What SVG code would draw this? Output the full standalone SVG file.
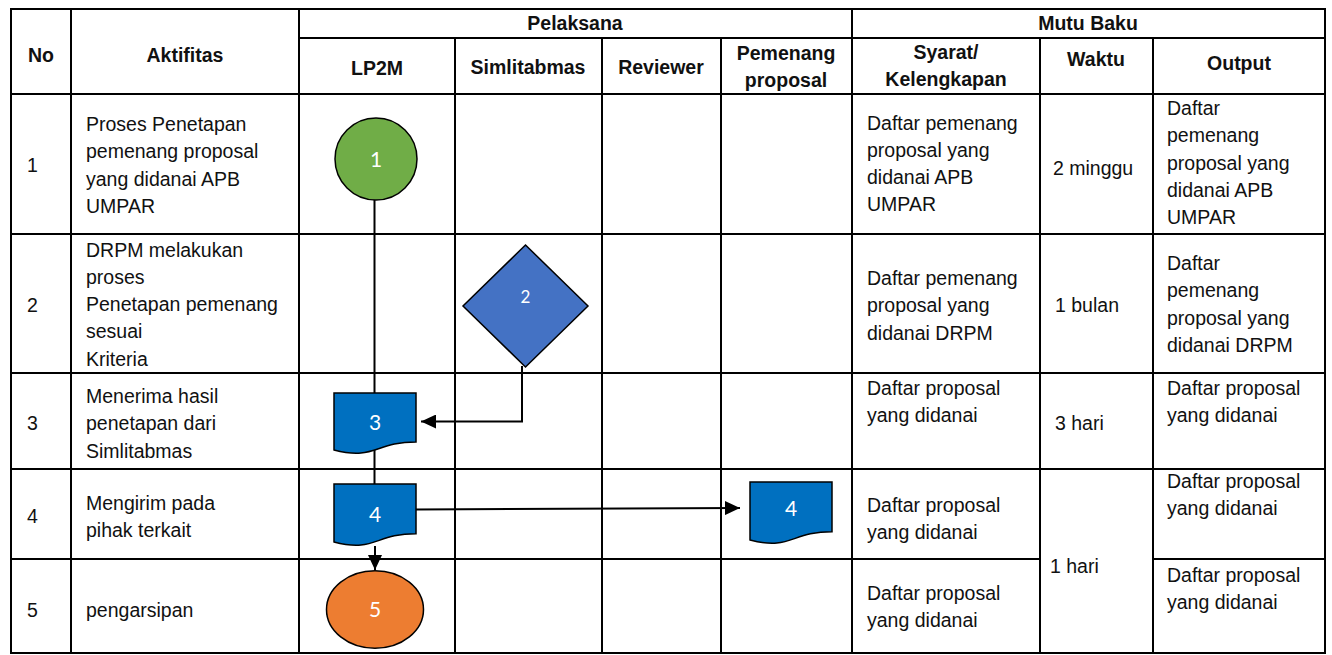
<svg xmlns="http://www.w3.org/2000/svg" width="1332" height="655" viewBox="0 0 1332 655">
<style>
.g{stroke:#000;stroke-width:2;fill:none}
.t{font-family:"Liberation Sans",Arial,sans-serif;font-size:19.5px;fill:#111}
.h{font-family:"Liberation Sans",Arial,sans-serif;font-size:19.5px;font-weight:bold;fill:#111;text-anchor:middle}
.c{text-anchor:middle}
.w{font-family:Lato,"Open Sans",sans-serif;font-size:21px;fill:#fff;text-anchor:middle}
.ln{stroke:#000;stroke-width:2;fill:none}
.sh{stroke:#000;stroke-width:1.5}
</style>
<defs>
<marker id="ah" markerUnits="userSpaceOnUse" markerWidth="16" markerHeight="14" refX="15" refY="7" orient="auto">
<path d="M0,0 L15,7 L0,14 Z" fill="#000"/>
</marker>
</defs>
<rect width="1332" height="655" fill="#fff"/>
<g id="table" class="g">
<rect x="11" y="9" width="1314" height="644"/>
<path d="M71,9 V653 M299,9 V653 M852,9 V653 M455,38 V653 M602,38 V653 M721,38 V653 M1040,38 V653 M1153,38 V653"/>
<path d="M299,38 H1325 M11,94 H1325 M11,234 H1325 M11,373 H1325 M11,469 H1325 M11,559 H1040 M1153,559 H1325"/>
</g>
<g id="headers">
<text class="h" x="41" y="62">No</text>
<text class="h" x="185" y="62">Aktifitas</text>
<text class="h" x="575" y="30">Pelaksana</text>
<text class="h" x="1088" y="30">Mutu Baku</text>
<text class="h" x="377" y="75">LP2M</text>
<text class="h" x="528" y="74">Simlitabmas</text>
<text class="h" x="661" y="74">Reviewer</text>
<text class="h" x="786" y="60">Pemenang</text>
<text class="h" x="786" y="87">proposal</text>
<text class="h" x="946" y="59">Syarat/</text>
<text class="h" x="946" y="86">Kelengkapan</text>
<text class="h" x="1096" y="66">Waktu</text>
<text class="h" x="1239" y="70">Output</text>
</g>
<g id="row1" class="t">
<text x="27" y="172">1</text>
<text x="86" y="131">Proses Penetapan</text>
<text x="86" y="158.3">pemenang proposal</text>
<text x="86" y="185.6">yang didanai APB</text>
<text x="86" y="213">UMPAR</text>
<text x="867" y="129.5">Daftar pemenang</text>
<text x="867" y="156.8">proposal yang</text>
<text x="867" y="184.1">didanai APB</text>
<text x="867" y="211.4">UMPAR</text>
<text x="1053" y="175">2 minggu</text>
<text x="1167" y="115">Daftar</text>
<text x="1167" y="142.3">pemenang</text>
<text x="1167" y="169.6">proposal yang</text>
<text x="1167" y="196.9">didanai APB</text>
<text x="1167" y="224.2">UMPAR</text>
</g>
<g id="row2" class="t">
<text x="27" y="312">2</text>
<text x="86" y="256.5">DRPM melakukan</text>
<text x="86" y="283.8">proses</text>
<text x="86" y="311.1">Penetapan pemenang</text>
<text x="86" y="338.4">sesuai</text>
<text x="86" y="365.7">Kriteria</text>
<text x="867" y="285">Daftar pemenang</text>
<text x="867" y="312.3">proposal yang</text>
<text x="867" y="339.6">didanai DRPM</text>
<text x="1055" y="312">1 bulan</text>
<text x="1167" y="270">Daftar</text>
<text x="1167" y="297.3">pemenang</text>
<text x="1167" y="324.6">proposal yang</text>
<text x="1167" y="351.9">didanai DRPM</text>
</g>
<g id="row3" class="t">
<text x="27" y="430">3</text>
<text x="86" y="403">Menerima hasil</text>
<text x="86" y="430.3">penetapan dari</text>
<text x="86" y="457.6">Simlitabmas</text>
<text x="867" y="395">Daftar proposal</text>
<text x="867" y="422.3">yang didanai</text>
<text x="1055" y="430">3 hari</text>
<text x="1167" y="395">Daftar proposal</text>
<text x="1167" y="422.3">yang didanai</text>
</g>
<g id="row4" class="t">
<text x="27" y="523">4</text>
<text x="86" y="510">Mengirim pada</text>
<text x="86" y="537.3">pihak terkait</text>
<text x="867" y="512">Daftar proposal</text>
<text x="867" y="539.3">yang didanai</text>
<text x="1050" y="573">1 hari</text>
<text x="1167" y="488">Daftar proposal</text>
<text x="1167" y="515.3">yang didanai</text>
</g>
<g id="row5" class="t">
<text x="27" y="617">5</text>
<text x="86" y="617">pengarsipan</text>
<text x="867" y="600">Daftar proposal</text>
<text x="867" y="627.3">yang didanai</text>
<text x="1167" y="582">Daftar proposal</text>
<text x="1167" y="609.3">yang didanai</text>
</g>
<g id="connectors" class="ln">
<path d="M374.5,200 V484"/>
<path d="M522,366 V421.5 H421" marker-end="url(#ah)"/>
<path d="M416,509.5 L740,508" marker-end="url(#ah)"/>
<path d="M375,546 V570" marker-end="url(#ah)"/>
</g>
<g id="node1">
<circle class="sh" cx="376" cy="159" r="41" fill="#70AD47"/>
<text class="w" x="376" y="166.5">1</text>
</g>
<g id="node2">
<path class="sh" d="M525.5,245 L588,306 L525.5,367 L463,306 Z" fill="#4472C4"/>
<text class="w" x="525.5" y="303" style="font-size:17px">2</text>
</g>
<g id="node3">
<path class="sh" d="M334,393 H416 V441.9 C375,441.9 375,460.5 334,450 Z" fill="#0070C0"/>
<text class="w" x="375" y="430">3</text>
</g>
<g id="node4">
<path class="sh" d="M334,484 H416 V533.7 C375,533.7 375,552.6 334,542 Z" fill="#0070C0"/>
<text class="w" x="375" y="522">4</text>
</g>
<g id="node4b">
<path class="sh" d="M750,482 H832 V531.7 C791,531.7 791,550.6 750,540 Z" fill="#0070C0"/>
<text class="w" x="791" y="516">4</text>
</g>
<g id="node5">
<ellipse class="sh" cx="375" cy="609.5" rx="48.5" ry="38.8" fill="#ED7D31"/>
<text class="w" x="375" y="617">5</text>
</g>
</svg>
